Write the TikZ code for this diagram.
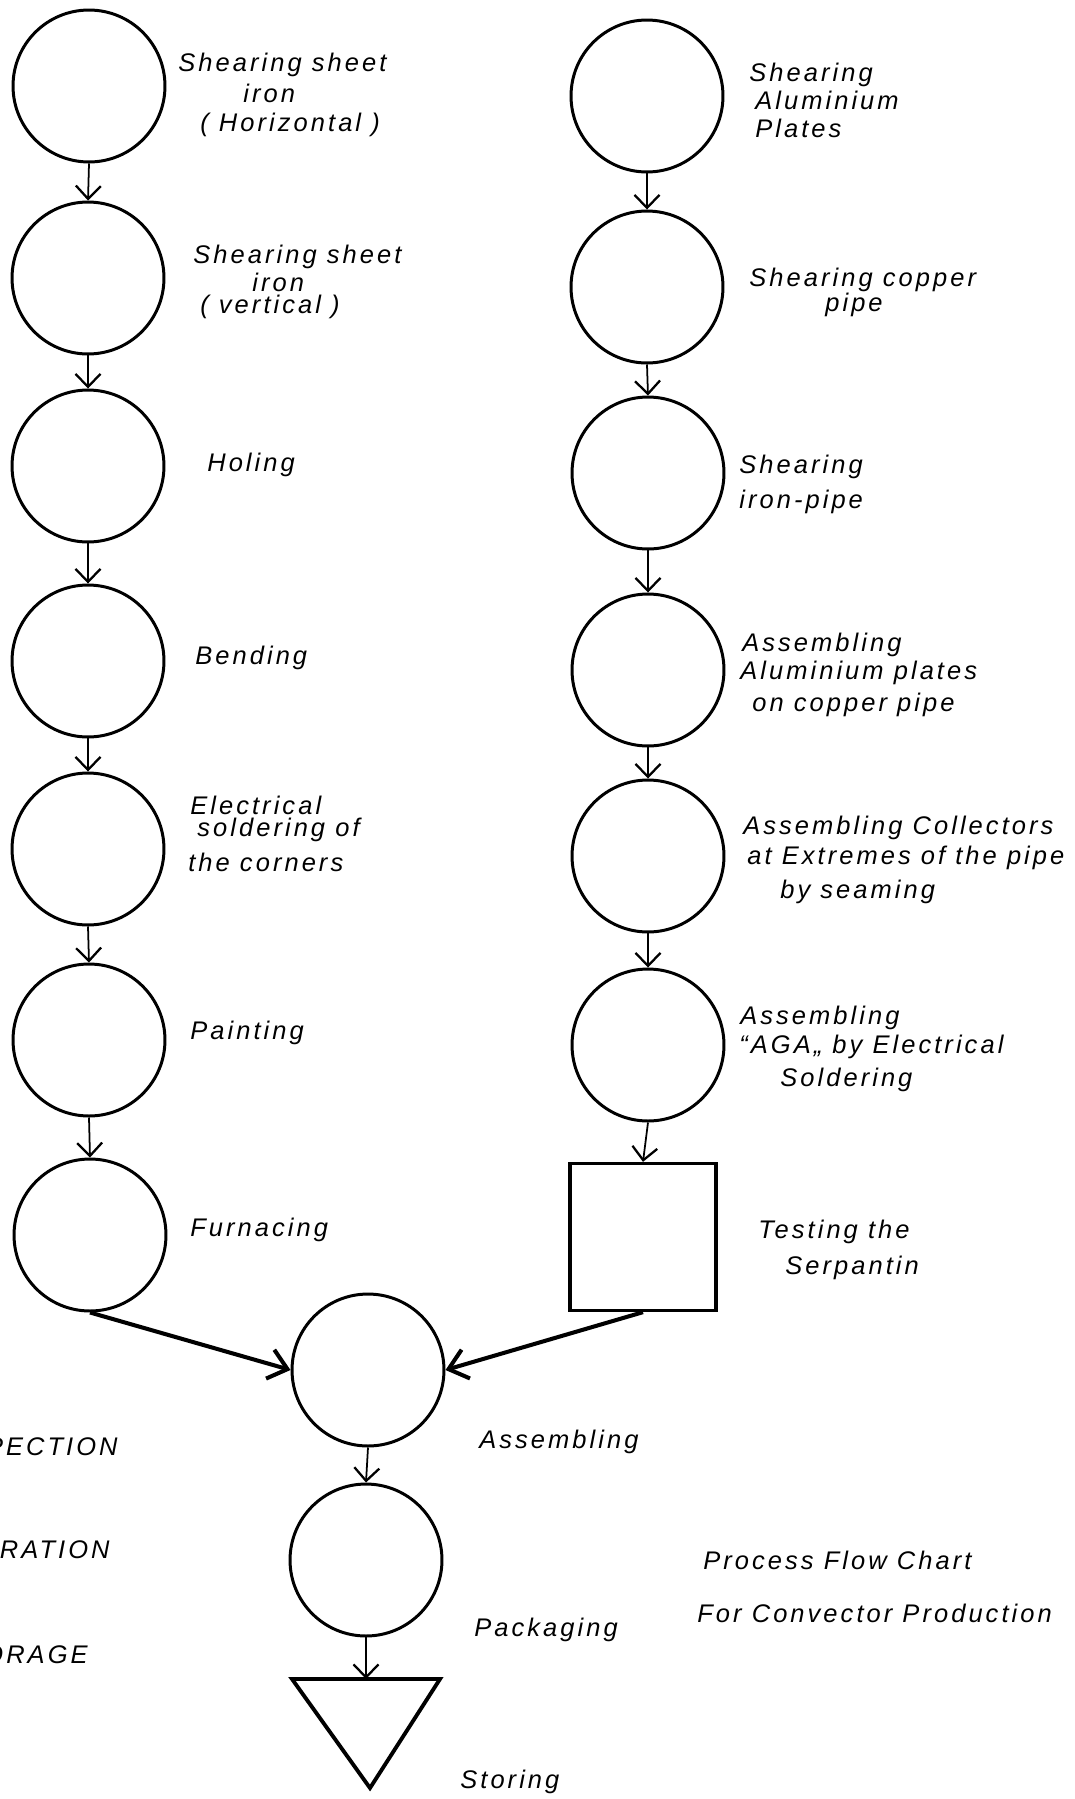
\documentclass[tikz,border=0pt]{standalone}
\usepackage{fontspec}
\usetikzlibrary{arrows.meta}
\newfontfamily\handfont[LetterSpace=12]{Liberation Sans}
\begin{document}
\begin{tikzpicture}[x=0.02cm,y=-0.02cm,
  op/.style={circle,draw,line width=1.7pt,minimum size=3.04cm,inner sep=0pt},
  flow/.style={line width=1pt,-{Straight Barb[length=0.26cm,width=0.5cm,line width=1.3pt]}},
  merge/.style={line width=2.3pt,-{Straight Barb[length=0.36cm,width=0.6cm]}},
  lbl/.style={anchor=west,inner sep=0pt,font=\handfont\itshape\fontsize{14.5}{17}\selectfont},
  legend/.style={lbl,anchor=east}]
\useasboundingbox (0,0) rectangle (1075,1799);
\clip (0,0) rectangle (1075,1799);
\fill[white] (0,0) rectangle (1075,1799);

% sheet-iron casing line
\node[op] (l1) at (89,86) {};
\node[op] (l2) at (88,278) {};
\node[op] (l3) at (88,466) {};
\node[op] (l4) at (88,661) {};
\node[op] (l5) at (88,849) {};
\node[op] (l6) at (89,1040) {};
\node[op] (l7) at (90,1235) {};

% heating element line
\node[op] (r1) at (647,96) {};
\node[op] (r2) at (647,287) {};
\node[op] (r3) at (648,473) {};
\node[op] (r4) at (648,670) {};
\node[op] (r5) at (648,856) {};
\node[op] (r6) at (648,1045) {};
\node[draw,line width=1.9pt,minimum width=2.92cm,minimum height=2.94cm,inner sep=0pt] (test) at (643,1237) {};

% final operations
\node[op] (asm) at (368,1370) {};
\node[op] (pkg) at (366,1560) {};
\coordinate (store) at (366,1679);
\draw[line width=2.2pt,line join=miter] (292,1679) -- (440,1679) -- (370,1788) -- cycle;

% connectors
\foreach \a/\b in {l1/l2,l2/l3,l3/l4,l4/l5,l5/l6,l6/l7,r1/r2,r2/r3,r3/r4,r4/r5,r5/r6,r6/test,asm/pkg}
  \draw[flow] (\a.south) -- (\b.north);
\draw[flow] (pkg.south) -- (store);
\draw[merge] (l7.south) -- (asm.west);
\draw[merge] (test.south) -- (asm.east);

% labels, left column
\node[lbl] (t1a) at (178,65) {Shearing sheet};
\node[lbl] (t1b) at (243,93) {iron};
\node[lbl] (t1c) at (200,125) {( Horizontal )};
\node[lbl] (t2a) at (193,257) {Shearing sheet};
\node[lbl] (t2b) at (252,282) {iron};
\node[lbl] (t2c) at (200,307) {( vertical )};
\node[lbl] (t3) at (207,465) {Holing};
\node[lbl] (t4) at (195,658) {Bending};
\node[lbl] (t5a) at (190,805) {Electrical};
\node[lbl] (t5b) at (197,830) {soldering of};
\node[lbl] (t5c) at (188,862) {the corners};
\node[lbl] (t6) at (190,1033) {Painting};
\node[lbl] (t7) at (190,1230) {Furnacing};

% labels, right column
\node[lbl] (u1a) at (749,75) {Shearing};
\node[lbl] (u1b) at (755,100) {Aluminium};
\node[lbl] (u1c) at (755,128) {Plates};
\node[lbl] (u2a) at (749,280) {Shearing copper};
\node[lbl] (u2b) at (825,305) {pipe};
\node[lbl] (u3a) at (739,467) {Shearing};
\node[lbl] (u3b) at (739,502) {iron-pipe};
\node[lbl] (u4a) at (742,645) {Assembling};
\node[lbl] (u4b) at (740,673) {Aluminium plates};
\node[lbl] (u4c) at (752,705) {on copper pipe};
\node[lbl] (u5a) at (743,828) {Assembling Collectors};
\node[lbl] (u5b) at (747,858) {at Extremes of the pipe};
\node[lbl] (u5c) at (780,892) {by seaming};
\node[lbl] (u6a) at (740,1018) {Assembling};
\node[lbl] (u6b) at (739,1047) {“AGA„ by Electrical};
\node[lbl] (u6c) at (780,1080) {Soldering};
\node[lbl] (u7a) at (758,1232) {Testing the};
\node[lbl] (u7b) at (785,1268) {Serpantin};

% labels, final operations
\node[lbl] (v1) at (479,1442) {Assembling};
\node[lbl] (v2) at (474,1630) {Packaging};
\node[lbl] (v3) at (460,1782) {Storing};

% title
\node[lbl] (ttl1) at (703,1560) {Process Flow Chart};
\node[lbl] (ttl2) at (697,1613) {For Convector Production};

% symbol key
\node[legend] (k1) at (118,1447) {INSPECTION};
\node[legend] (k2) at (110,1550) {OPERATION};
\node[legend] (k3) at (88,1655) {STORAGE};
\end{tikzpicture}
\end{document}
